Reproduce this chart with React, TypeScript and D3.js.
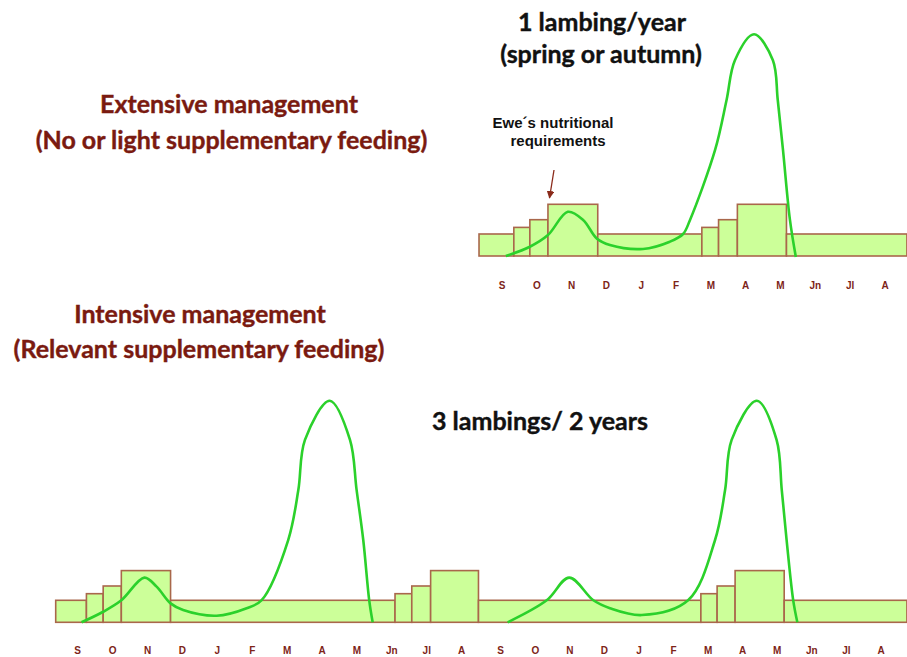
import React from "react";
import * as d3 from "d3";

// month tick labels (Sept -> Aug)
const months = ["S", "O", "N", "D", "J", "F", "M", "A", "M", "Jn", "Jl", "A"];

// ewe requirement blocks: edges in month units, level relative to maintenance
const topBarEdges = [-0.66, 0.34, 0.8, 1.32, 2.75, 5.74, 6.22, 6.76, 8.17, 11.63];
const topBarLevels = [1, 1.3, 1.65, 2.35, 1, 1.3, 1.65, 2.35, 1];

const bottomBarEdges = [-0.63, 0.25, 0.73, 1.25, 2.66, 9.09, 9.57, 10.11, 11.43, 17.79, 18.26, 18.78, 20.2, 23.75];
const bottomBarLevels = [1, 1.3, 1.65, 2.35, 1, 1.3, 1.65, 2.35, 1, 1.3, 1.65, 2.35, 1];

// green curves (month position, value)
const topCurveMonth = [0.11, 0.8, 1.32, 1.89, 2.33, 2.72, 3.1, 4.05, 4.82, 5.2, 5.4, 6.12, 6.45, 6.69, 7.24, 7.78, 7.92, 8.07, 8.27, 8.44];
const topCurveValue = [0, 0.42, 0.95, 2.01, 1.64, 0.8, 0.5, 0.32, 0.65, 1.0, 1.64, 4.82, 7.09, 8.9, 10.08, 8.9, 7.09, 4.82, 1.64, -0.05];

const bottomCurve1Month = [0.11, 0.73, 1.25, 1.91, 2.26, 2.66, 3.02, 3.98, 4.84, 5.27, 6.03, 6.32, 6.51, 7.22, 7.8, 7.99, 8.18, 8.35, 8.45];
const bottomCurve1Value = [0, 0.48, 1.0, 2.03, 1.62, 0.86, 0.56, 0.3, 0.64, 1.01, 3.74, 6.01, 8.29, 10.07, 8.29, 6.01, 3.74, 1.01, 0];

const bottomCurve2Month = [12.2, 13.33, 13.98, 14.68, 15.16, 16.08, 17.42, 18.2, 18.49, 18.68, 19.41, 19.98, 20.13, 20.27, 20.46, 20.58];
const bottomCurve2Value = [0, 1.0, 2.03, 1.0, 0.64, 0.33, 1.0, 3.74, 6.01, 8.29, 10.07, 8.29, 6.01, 3.74, 1.01, 0];

const barFill = "#ccff99";
const barStroke = "#a9674b";
const curveColor = "#2bd12b";
const titleRed = "#7a1a10";
const monthRed = "#7d2418";
const titleFont = "Lato, 'Open Sans', sans-serif";
const smallFont = "'Liberation Sans', Arial, sans-serif";

type Scale = d3.ScaleLinear<number, number>;

const Bars: React.FC<{ edges: number[]; levels: number[]; x: Scale; y: Scale }> = ({ edges, levels, x, y }) => (
  <g>
    {levels.map((lv, i) => (
      <rect
        key={i}
        x={x(edges[i])}
        y={y(lv)}
        width={x(edges[i + 1]) - x(edges[i])}
        height={y(0) - y(lv)}
        fill={barFill}
        stroke={barStroke}
        strokeWidth={1.6}
      />
    ))}
  </g>
);

const Curve: React.FC<{ mx: number[]; vy: number[]; x: Scale; y: Scale }> = ({ mx, vy, x, y }) => {
  const line = d3
    .line<number>()
    .x((d, i) => x(mx[i]))
    .y((d) => y(d))
    .curve(d3.curveCatmullRom.alpha(0.5));
  return <path d={line(vy) || ""} fill="none" stroke={curveColor} strokeWidth={2.6} />;
};

const MonthLabels: React.FC<{ count: number; x: Scale; y: number }> = ({ count, x, y }) => (
  <g>
    {d3.range(count).map((i) => (
      <text
        key={i}
        x={x(i)}
        y={y}
        textAnchor="middle"
        fontFamily={smallFont}
        fontWeight="bold"
        fontSize={10}
        fill={monthRed}
      >
        {months[i % 12]}
      </text>
    ))}
  </g>
);

const App: React.FC = () => {
  const width = 907;
  const height = 657;

  const xTop = d3.scaleLinear().domain([0, 11]).range([502, 885]);
  const yTop = d3.scaleLinear().domain([0, 10]).range([256, 36]);

  const xBottom = d3.scaleLinear().domain([0, 11, 12, 23]).range([77.7, 461.7, 500.7, 881]);
  const yBottom = d3.scaleLinear().domain([0, 10]).range([622.3, 402.3]);

  return (
    <svg
      width={width}
      height={height}
      style={{ position: "absolute", left: 0, top: 0, background: "#fff" }}
    >
      <defs>
        <marker id="arrowHead" viewBox="0 0 10 10" refX="9" refY="5" markerWidth="6" markerHeight="6" orient="auto">
          <path d="M0,0 L10,5 L0,10 z" fill="#8a2a1a" />
        </marker>
      </defs>

      {/* titles */}
      <g fontFamily={titleFont} fontWeight="bold" fontSize={25} strokeWidth={0.4}>
        <text x={229} y={113} textAnchor="middle" fill={titleRed} stroke={titleRed}>Extensive management</text>
        <text x={231.5} y={149} textAnchor="middle" fill={titleRed} stroke={titleRed}>(No or light supplementary feeding)</text>
        <text x={602} y={31} textAnchor="middle" fill="#111" stroke="#111">1 lambing/year</text>
        <text x={601} y={63} textAnchor="middle" fill="#111" stroke="#111">(spring or autumn)</text>
        <text x={200} y={323} textAnchor="middle" fill={titleRed} stroke={titleRed}>Intensive management</text>
        <text x={199} y={358} textAnchor="middle" fill={titleRed} stroke={titleRed}>(Relevant supplementary feeding)</text>
        <text x={540} y={430} textAnchor="middle" fill="#111" stroke="#111">3 lambings/ 2 years</text>
      </g>

      {/* annotation */}
      <g fontFamily={smallFont} fontWeight="bold" fontSize={15} fill="#111" textAnchor="middle">
        <text x={553} y={128}>Ewe´s nutritional</text>
        <text x={558} y={146}>requirements</text>
      </g>
      <line x1={554} y1={170} x2={549.5} y2={198} stroke="#8a2a1a" strokeWidth={1.3} markerEnd="url(#arrowHead)" />

      {/* top: extensive */}
      <Bars edges={topBarEdges} levels={topBarLevels} x={xTop} y={yTop} />
      <Curve mx={topCurveMonth} vy={topCurveValue} x={xTop} y={yTop} />
      <MonthLabels count={12} x={xTop} y={289} />

      {/* bottom: intensive */}
      <Bars edges={bottomBarEdges} levels={bottomBarLevels} x={xBottom} y={yBottom} />
      <Curve mx={bottomCurve1Month} vy={bottomCurve1Value} x={xBottom} y={yBottom} />
      <Curve mx={bottomCurve2Month} vy={bottomCurve2Value} x={xBottom} y={yBottom} />
      <MonthLabels count={24} x={xBottom} y={654} />
    </svg>
  );
};

export default App;
